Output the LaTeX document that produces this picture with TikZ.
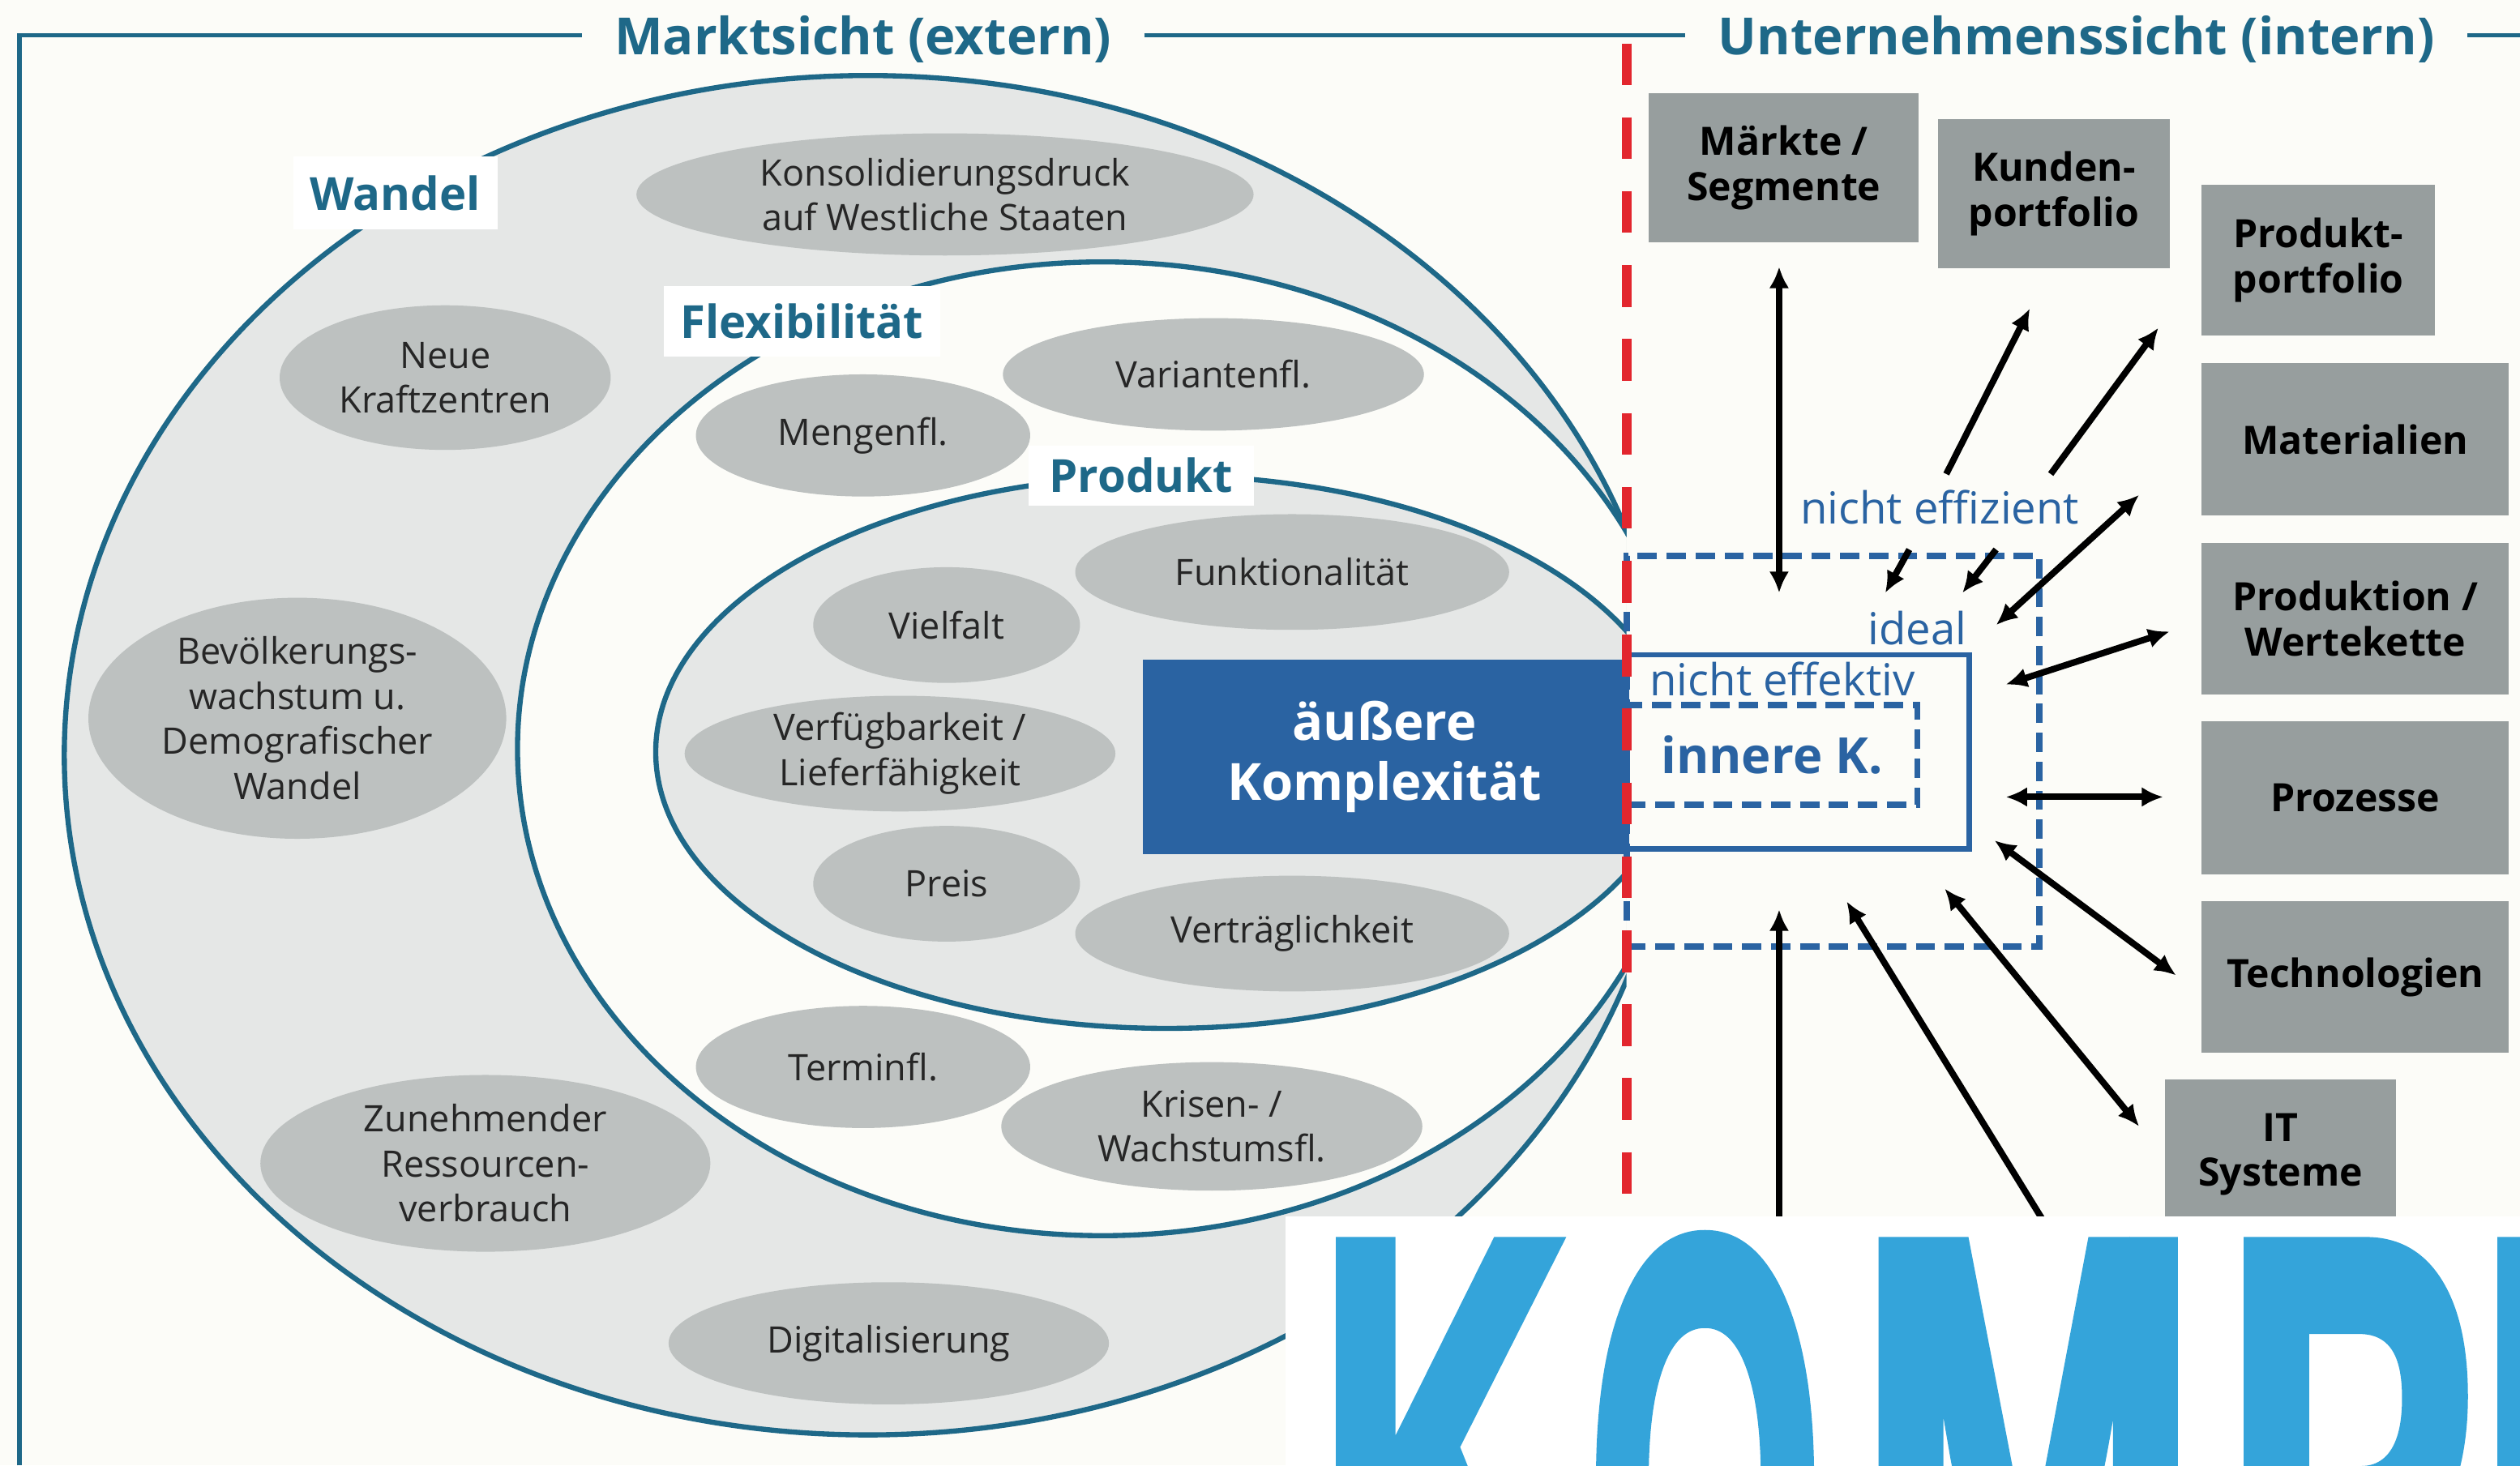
\documentclass[tikz,border=0pt]{standalone}
\usepackage{fontspec}
\setmainfont{Open Sans}
\newfontfamily\stampfont[FakeBold=3]{Liberation Sans}
\usetikzlibrary{shapes.geometric,arrows.meta,positioning}

\definecolor{paper}{RGB}{252,252,248}
\definecolor{petrol}{RGB}{30,104,136}
\definecolor{ringgrey}{RGB}{229,231,230}
\definecolor{blobgrey}{RGB}{189,193,192}
\definecolor{tilegrey}{RGB}{151,158,158}
\definecolor{komblue}{RGB}{42,99,162}
\definecolor{cutred}{RGB}{226,38,46}
\definecolor{stampblue}{RGB}{52,164,218}

\newdimen\pxu \pxu=0.019828cm

\tikzset{
  frame/.style={draw=petrol, line width=2.8\pxu},
  curve/.style={draw=petrol, line width=3.2\pxu},
  heading/.style={text=petrol, inner xsep=20\pxu, inner ysep=0pt, font=\bfseries\fontsize{18}{21}\selectfont},
  ringlabel/.style={fill=white, inner sep=0pt, text=petrol, font=\bfseries\fontsize{16}{19}\selectfont},
  blob/.style={ellipse, fill=blobgrey, inner sep=0pt, align=center, text=black!85,
    font=\fontsize{12.8}{15.8}\selectfont},
  tile/.style={rectangle, fill=tilegrey, inner sep=0pt, align=center, text=black,
    font=\bfseries\fontsize{13.7}{15.8}\selectfont},
  core/.style={rectangle, fill=komblue, inner sep=0pt, align=center, text=white,
    font=\bfseries\fontsize{18}{21}\selectfont},
  ideal/.style={draw=komblue, line width=4\pxu, dash pattern=on 12\pxu off 6\pxu, inner sep=0pt},
  real/.style={draw=komblue, line width=3.5\pxu, inner sep=0pt},
  note/.style={text=komblue, inner sep=0pt, font=\fontsize{15.5}{18}\selectfont},
  cut/.style={draw=cutred, line width=6\pxu, dash pattern=on 26\pxu off 20\pxu},
  tip/.style={-{Latex[length=7.5pt,width=7pt]}},
  tips/.style={{Latex[length=7.5pt,width=7pt]}-{Latex[length=7.5pt,width=7pt]}},
  link/.style={draw=black, line width=4\pxu},
  stamp/.style={anchor=base, inner sep=0pt, text=stampblue, transform shape,
    font=\stampfont\bfseries\fontsize{240}{240}\selectfont},
}

\begin{document}
\begin{tikzpicture}[x=0.019828cm, y=-0.019828cm]
\fill[paper] (0,0) rectangle (1568,912);
\useasboundingbox (0,0) rectangle (1568,912);

% rings: Wandel, Flexibilitaet, Produkt
\begin{scope}
  \clip (0,0) rectangle (1012,912);
  \fill[ringgrey] (540,470) ellipse [x radius=500, y radius=423];
  \fill[paper] (686,466) ellipse [x radius=364, y radius=303];
  \fill[ringgrey] (726,468) ellipse [x radius=318, y radius=172];
  \draw[curve] (540,470) ellipse [x radius=500, y radius=423];
  \draw[curve] (686,466) ellipse [x radius=364, y radius=303];
  \draw[curve] (726,468) ellipse [x radius=318, y radius=172];
\end{scope}

\node[ringlabel, minimum width=127\pxu, minimum height=45\pxu] (wandel) at (246,120) {Wandel};
\node[ringlabel, minimum width=172\pxu, minimum height=44\pxu] (flex) at (499,200) {Flexibilität};
\node[ringlabel, minimum width=140\pxu, minimum height=37\pxu] (produkt) at (710,296) {Produkt};

\node[blob, minimum width=384\pxu, minimum height=76\pxu] (konsol) at (588,121) {Konsolidierungsdruck\\auf Westliche Staaten};
\node[blob, minimum width=206\pxu, minimum height=90\pxu] (neue) at (277,235) {Neue\\Kraftzentren};
\node[blob, minimum width=260\pxu, minimum height=150\pxu] (bevoelk) at (185,447) {Bevölkerungs-\\wachstum u.\\Demografischer\\Wandel};
\node[blob, minimum width=280\pxu, minimum height=110\pxu] (ressource) at (302,724) {Zunehmender\\Ressourcen-\\verbrauch};
\node[blob, minimum width=274\pxu, minimum height=76\pxu] (digital) at (553,836) {Digitalisierung};

\node[blob, minimum width=262\pxu, minimum height=70\pxu] (variant) at (755,233) {Variantenfl.};
\node[blob, minimum width=208\pxu, minimum height=76\pxu] (menge) at (537,271) {Mengenfl.};
\node[blob, minimum width=208\pxu, minimum height=76\pxu] (termin) at (537,664) {Terminfl.};
\node[blob, minimum width=262\pxu, minimum height=80\pxu] (krise) at (754,701) {Krisen- /\\Wachstumsfl.};

\node[blob, minimum width=270\pxu, minimum height=72\pxu] (funktion) at (804,356) {Funktionalität};
\node[blob, minimum width=166\pxu, minimum height=72\pxu] (vielfalt) at (589,389) {Vielfalt};
\node[blob, minimum width=268\pxu, minimum height=72\pxu] (verfueg) at (560,469) {Verfügbarkeit /\\Lieferfähigkeit};
\node[blob, minimum width=166\pxu, minimum height=72\pxu] (preis) at (589,550) {Preis};
\node[blob, minimum width=270\pxu, minimum height=72\pxu] (vertraeg) at (804,581) {Verträglichkeit};

\node[core, minimum width=301\pxu, minimum height=121\pxu] (aussen) at (861.5,471) {äußere\\Komplexität};

% headings and frame
\coordinate (corner) at (12,22);
\node[heading, anchor=base] (markt) at (537,34) {Marktsicht (extern)};
\node[heading, anchor=base] (unter) at (1292,34) {Unternehmenssicht (intern)};
\draw[frame] (12,912) -- (corner) -- (markt.west |- corner);
\draw[frame] (markt.east |- corner) -- (unter.west |- corner);
\draw[frame] (unter.east |- corner) -- (1568,22);

% inner complexity
\node[ideal, minimum width=257\pxu, minimum height=243\pxu] (idealbox) at (1140.5,467.5) {};
\node[real, minimum width=213.5\pxu, minimum height=121\pxu] (effbox) at (1118.75,468) {};
\node[ideal, minimum width=181\pxu, minimum height=62\pxu, font=\bfseries\fontsize{17.5}{20}\selectfont, text=komblue] (innen) at (1102.5,470) {innere K.};
\node[note, anchor=base] (effizient) at (1207,326) {nicht effizient};
\node[note, anchor=base] (idealtxt) at (1193,401) {ideal};
\node[note, anchor=base] (effektiv) at (1109,433) {nicht effektiv};

\draw[cut] (1012,27) -- (1012,912);

% company side
\node[tile, minimum width=168\pxu, minimum height=93\pxu] (maerkte) at (1110,104.5) {Märkte /\\Segmente};
\node[tile, minimum width=144\pxu, minimum height=93\pxu] (kunden) at (1278,120.5) {Kunden-\\portfolio};
\node[tile, minimum width=145\pxu, minimum height=94\pxu] (pportf) at (1442.5,162) {Produkt-\\portfolio};
\node[tile, minimum width=191\pxu, minimum height=95\pxu] (material) at (1465.5,273.5) {Materialien};
\node[tile, minimum width=191\pxu, minimum height=94\pxu] (produktion) at (1465.5,385) {Produktion /\\Wertekette};
\node[tile, minimum width=191\pxu, minimum height=95\pxu] (prozesse) at (1465.5,496.5) {Prozesse};
\node[tile, minimum width=191\pxu, minimum height=94\pxu] (techno) at (1465.5,608) {Technologien};
\node[tile, minimum width=144\pxu, minimum height=93\pxu] (itsys) at (1419,718.5) {IT\\Systeme};

\coordinate (m1) at (1107,166);  \coordinate (m2) at (1107,369);
\coordinate (k1) at (1211,295);  \coordinate (k2) at (1263,192);
\coordinate (p1) at (1276,295);  \coordinate (p2) at (1343,204);
\coordinate (s1) at (1188,342);  \coordinate (s2) at (1173,369);
\coordinate (s3) at (1242,342);  \coordinate (s4) at (1221,369);
\coordinate (d1) at (1242,389);  \coordinate (d2) at (1331,308);
\coordinate (w1) at (1248,426);  \coordinate (w2) at (1350,393);
\coordinate (z1) at (1248,496);  \coordinate (z2) at (1346,496);
\coordinate (t1) at (1241,523);  \coordinate (t2) at (1354,607);
\coordinate (i1) at (1210,553);  \coordinate (i2) at (1331,701);
\coordinate (u1) at (1149,561);  \coordinate (u2) at (1290,790);
\coordinate (v1) at (1107,566);  \coordinate (v2) at (1107,800);

\draw[link, tips] (m1) -- (m2);
\draw[link, tip] (k1) -- (k2);
\draw[link, tip] (p1) -- (p2);
\draw[link, tip] (s1) -- (s2);
\draw[link, tip] (s3) -- (s4);
\draw[link, tips] (d1) -- (d2);
\draw[link, tips] (w1) -- (w2);
\draw[link, tips] (z1) -- (z2);
\draw[link, tips] (t1) -- (t2);
\draw[link, tips] (i1) -- (i2);
\draw[link, tips] (u1) -- (u2);
\draw[link, tips] (v1) -- (v2);

% banner
\fill[white] (800,757) rectangle (1568,912);
\begin{scope}
  \clip (800,757) rectangle (1568,912);
  \foreach \ch/\x/\s in {K/897/0.5,O/1061/0.44,M/1262/0.6,P/1462/0.55,L/1610/0.52}
    \node[stamp, xscale=\s] at (\x,1069) {\ch};
\end{scope}
\end{tikzpicture}
\end{document}
